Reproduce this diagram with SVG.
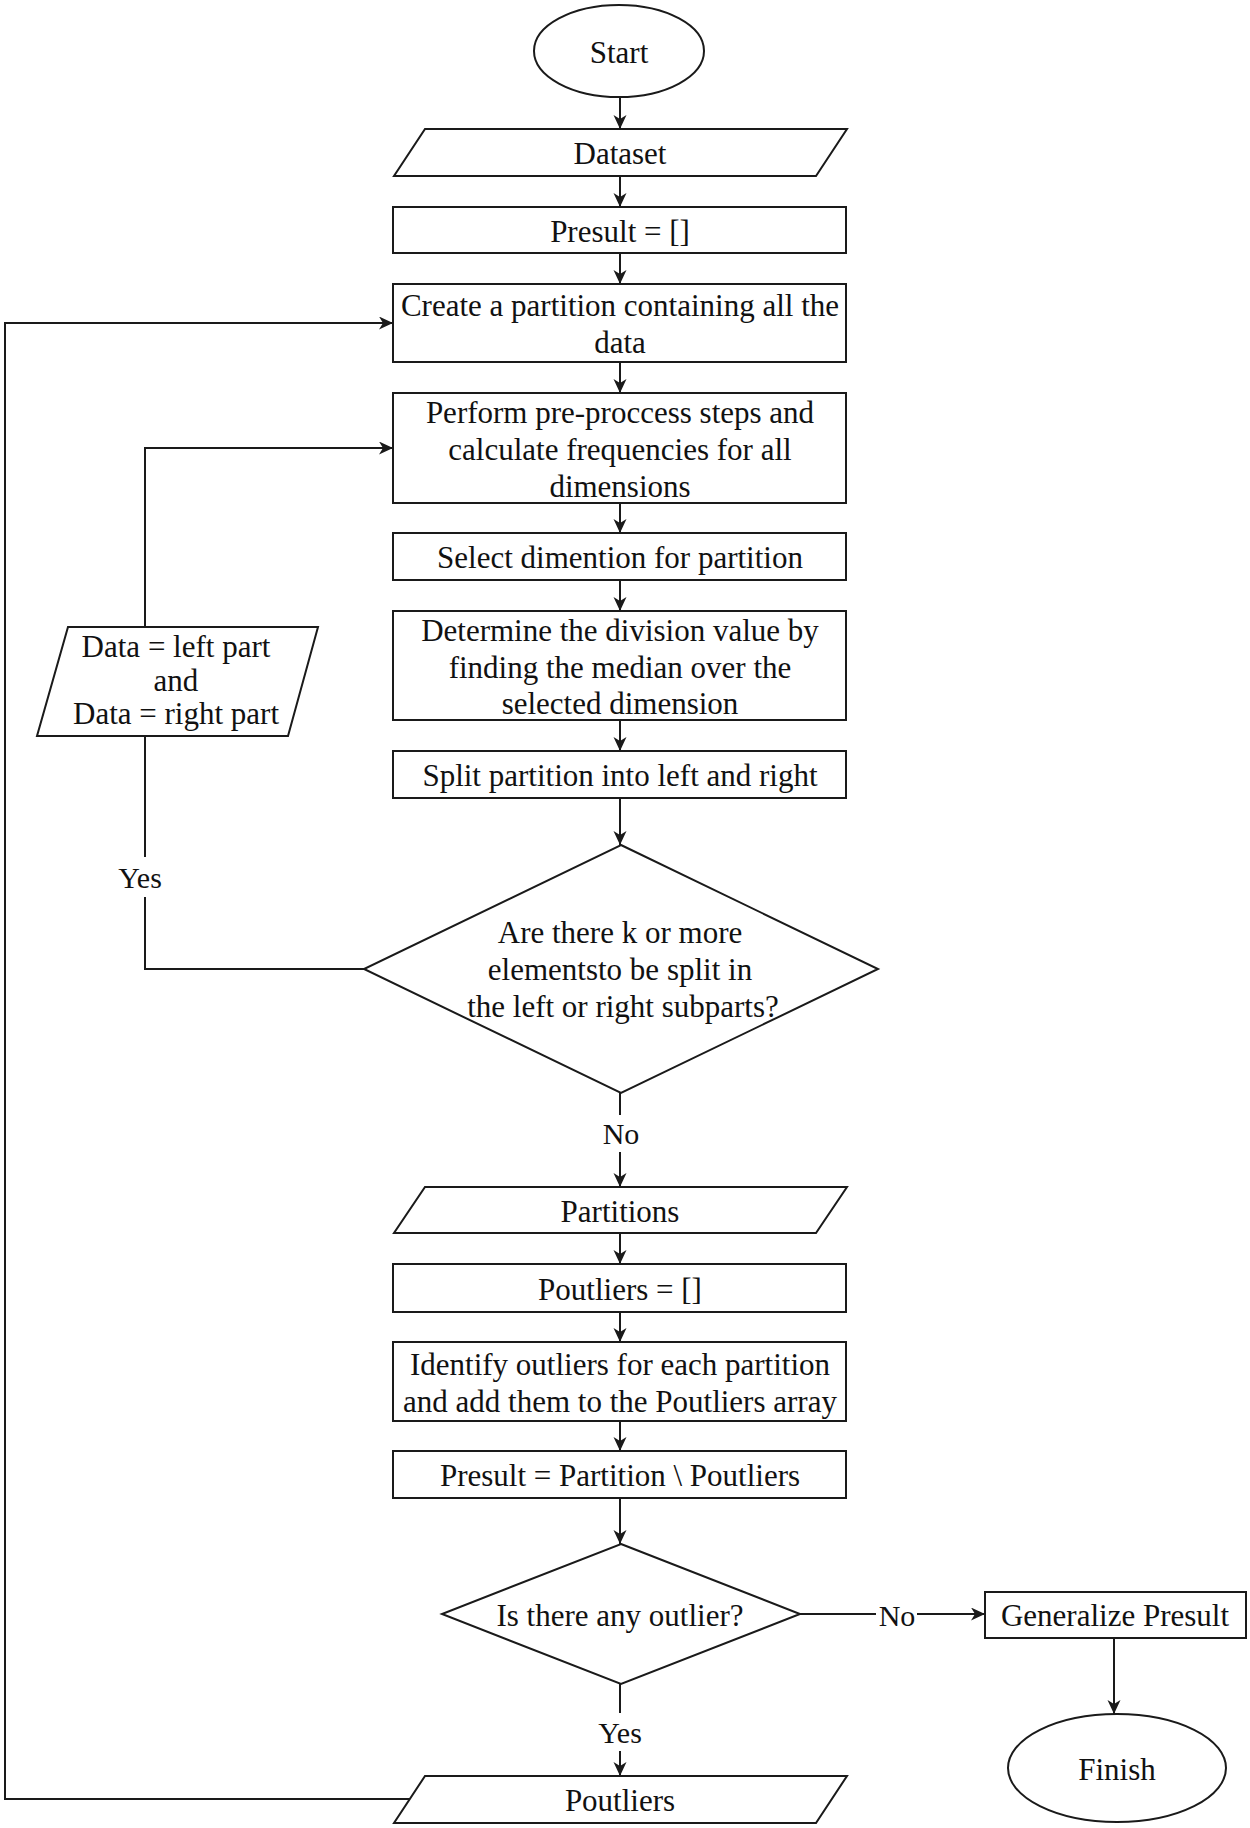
<svg xmlns="http://www.w3.org/2000/svg" width="1250" height="1828" viewBox="0 0 1250 1828">
  <style>
    .shape { fill: #ffffff; stroke: #1a1a1a; stroke-width: 2; }
    .line { fill: none; stroke: #1a1a1a; stroke-width: 2; }
    .arrow { fill: none; stroke: #1a1a1a; stroke-width: 2; marker-end: url(#ah); }
    text { font-family: "Liberation Serif", "Times New Roman", serif; font-size: 31px; fill: #111111; text-anchor: middle; }
    .lbl { font-size: 30px; }
  </style>
  <defs>
    <marker id="ah" markerUnits="userSpaceOnUse" markerWidth="15" markerHeight="14" refX="14" refY="6.5" orient="auto">
      <path d="M0,0 L14,6.5 L0,13 L4,6.5 Z" fill="#1a1a1a"/>
    </marker>
  </defs>
  <rect width="1250" height="1828" fill="#ffffff"/>

  <g id="connectors">
    <line class="arrow" x1="620" y1="97" x2="620" y2="129"/>
    <line class="arrow" x1="620" y1="176" x2="620" y2="207"/>
    <line class="arrow" x1="620" y1="253" x2="620" y2="284"/>
    <line class="arrow" x1="620" y1="362" x2="620" y2="393"/>
    <line class="arrow" x1="620" y1="503" x2="620" y2="533"/>
    <line class="arrow" x1="620" y1="580" x2="620" y2="611"/>
    <line class="arrow" x1="620" y1="720" x2="620" y2="751"/>
    <line class="arrow" x1="620" y1="798" x2="620" y2="845"/>
    <line class="line" x1="620" y1="1093" x2="620" y2="1115"/>
    <line class="arrow" x1="620" y1="1152" x2="620" y2="1187"/>
    <text class="lbl" x="621" y="1144">No</text>
    <polyline class="line" points="364,969 145,969 145,897"/>
    <line class="line" x1="145" y1="857" x2="145" y2="736"/>
    <text class="lbl" x="140" y="888">Yes</text>
    <polyline class="arrow" points="145,627 145,448 393,448"/>
    <line class="arrow" x1="620" y1="1233" x2="620" y2="1264"/>
    <line class="arrow" x1="620" y1="1312" x2="620" y2="1342"/>
    <line class="arrow" x1="620" y1="1421" x2="620" y2="1451"/>
    <line class="arrow" x1="620" y1="1498" x2="620" y2="1544"/>
    <line class="line" x1="800" y1="1614" x2="876" y2="1614"/>
    <line class="arrow" x1="917" y1="1614" x2="985" y2="1614"/>
    <text class="lbl" x="897" y="1626">No</text>
    <line class="arrow" x1="1114" y1="1638" x2="1114" y2="1714"/>
    <line class="line" x1="620" y1="1684" x2="620" y2="1713"/>
    <line class="arrow" x1="620" y1="1751" x2="620" y2="1776"/>
    <text class="lbl" x="620" y="1743">Yes</text>
    <polyline class="arrow" points="410,1799 5,1799 5,323 393,323"/>
  </g>

  <g id="start">
    <ellipse class="shape" cx="619" cy="51" rx="85" ry="46"/>
    <text x="619" y="63">Start</text>
  </g>
  <g id="dataset">
    <polygon class="shape" points="425,129 847,129 816,176 394,176"/>
    <text x="620" y="164">Dataset</text>
  </g>
  <g id="presult-init">
    <rect class="shape" x="393" y="207" width="453" height="46"/>
    <text x="620" y="242">Presult = []</text>
  </g>
  <g id="create-partition">
    <rect class="shape" x="393" y="284" width="453" height="78"/>
    <text x="620" y="316">Create a partition containing all the</text>
    <text x="620" y="353">data</text>
  </g>
  <g id="preprocess">
    <rect class="shape" x="393" y="393" width="453" height="110"/>
    <text x="620" y="423">Perform pre-proccess steps and</text>
    <text x="620" y="460">calculate frequencies for all</text>
    <text x="620" y="497">dimensions</text>
  </g>
  <g id="select-dimension">
    <rect class="shape" x="393" y="533" width="453" height="47"/>
    <text x="620" y="568">Select dimention for partition</text>
  </g>
  <g id="division-value">
    <rect class="shape" x="393" y="611" width="453" height="109"/>
    <text x="620" y="641">Determine the division value by</text>
    <text x="620" y="678">finding the median over the</text>
    <text x="620" y="714">selected dimension</text>
  </g>
  <g id="split">
    <rect class="shape" x="393" y="751" width="453" height="47"/>
    <text x="620" y="786">Split partition into left and right</text>
  </g>
  <g id="decision-k">
    <polygon class="shape" points="621,845 878,969 621,1093 364,969"/>
    <text x="620" y="943">Are there k or more</text>
    <text x="620" y="980">elementsto be split in</text>
    <text x="623" y="1017">the left or right subparts?</text>
  </g>
  <g id="data-parts">
    <polygon class="shape" points="68,627 318,627 288,736 37,736"/>
    <text x="176" y="657">Data = left part</text>
    <text x="176" y="691">and</text>
    <text x="176" y="724">Data = right part</text>
  </g>
  <g id="partitions">
    <polygon class="shape" points="425,1187 847,1187 816,1233 394,1233"/>
    <text x="620" y="1222">Partitions</text>
  </g>
  <g id="poutliers-init">
    <rect class="shape" x="393" y="1264" width="453" height="48"/>
    <text x="620" y="1300">Poutliers = []</text>
  </g>
  <g id="identify">
    <rect class="shape" x="393" y="1342" width="453" height="79"/>
    <text x="620" y="1375">Identify outliers for each partition</text>
    <text x="620" y="1412">and add them to the Poutliers array</text>
  </g>
  <g id="presult-diff">
    <rect class="shape" x="393" y="1451" width="453" height="47"/>
    <text x="620" y="1486">Presult = Partition \ Poutliers</text>
  </g>
  <g id="decision-outlier">
    <polygon class="shape" points="621,1544 800,1614 621,1684 442,1614"/>
    <text x="620" y="1626">Is there any outlier?</text>
  </g>
  <g id="generalize">
    <rect class="shape" x="985" y="1592" width="261" height="46"/>
    <text x="1115" y="1626">Generalize Presult</text>
  </g>
  <g id="finish">
    <ellipse class="shape" cx="1117" cy="1768" rx="109" ry="54"/>
    <text x="1117" y="1780">Finish</text>
  </g>
  <g id="poutliers">
    <polygon class="shape" points="425,1776 847,1776 816,1823 394,1823"/>
    <text x="620" y="1811">Poutliers</text>
  </g>
</svg>
